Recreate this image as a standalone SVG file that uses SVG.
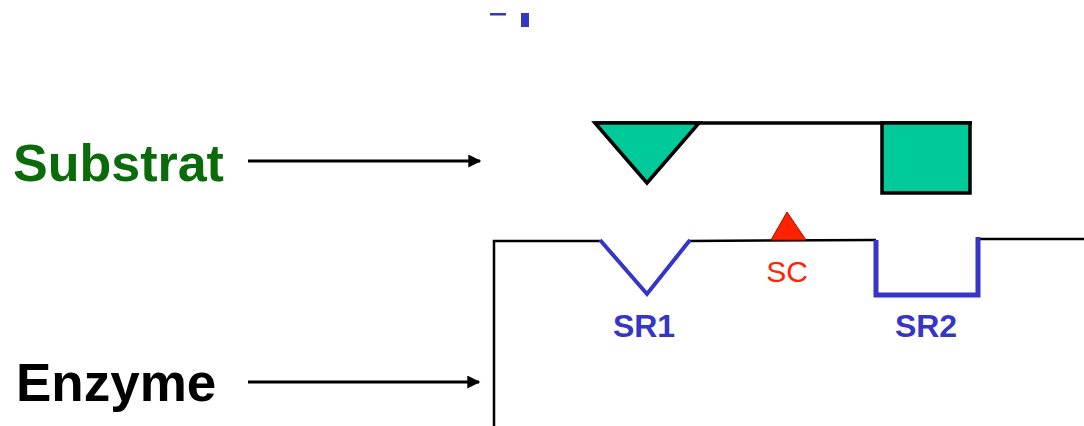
<svg xmlns="http://www.w3.org/2000/svg" width="1084" height="426" viewBox="0 0 1084 426">
<style>
.lbl{font-family:"Liberation Sans",Arial,sans-serif;font-weight:bold}
.site{font-family:"Liberation Sans",Arial,sans-serif;text-anchor:middle}
.blue{fill:#3535c8;font-size:32px;font-weight:bold}
.conn{stroke:#000;stroke-width:3;fill:none}
.sub{fill:#00c99a;stroke:#000;stroke-width:3.5;stroke-linejoin:miter}
</style>
<defs>
<marker id="ah" viewBox="0 0 10 10" refX="9" refY="5" markerWidth="15" markerHeight="13" markerUnits="userSpaceOnUse" orient="auto">
<path d="M0,0 L10,5 L0,10 z" fill="#000"/>
</marker>
</defs>
<rect width="1084" height="426" fill="#fff"/>
<g id="fragment">
<rect x="490" y="13" width="16" height="2.5" fill="#3535c8"/>
<rect x="521" y="13" width="8" height="14" fill="#3535c8"/>
</g>
<g id="label-substrat">
<text class="lbl" x="13" y="181" font-size="52" fill="#0b6b0b">Substrat</text>
</g>
<g id="label-enzyme">
<text class="lbl" x="16" y="401" font-size="53" fill="#000">Enzyme</text>
</g>
<g id="connectors">
<line class="conn" x1="248" y1="161" x2="480" y2="161" marker-end="url(#ah)"/>
<line class="conn" x1="248" y1="382" x2="479" y2="382" marker-end="url(#ah)"/>
</g>
<g id="substrate">
<line x1="594" y1="123" x2="972" y2="123" stroke="#000" stroke-width="3.5"/>
<polygon class="sub" points="595,123 699,123 647,183"/>
<rect class="sub" x="882" y="123" width="88" height="70"/>
</g>
<g id="enzyme">
<polyline points="494,426 494,241 600,241" fill="none" stroke="#000" stroke-width="2.5"/>
<line x1="689" y1="241" x2="876" y2="240" stroke="#000" stroke-width="2.5"/>
<line x1="979" y1="239" x2="1084" y2="239" stroke="#000" stroke-width="2.5"/>
<polygon points="771,240 787,212 806,240" fill="#ff2200" stroke="#a01000" stroke-width="1"/>
<polyline points="600,240 647,294 690,240" fill="none" stroke="#3535c8" stroke-width="4"/>
<polyline points="876,240 876,295 978,295 978,237" fill="none" stroke="#3535c8" stroke-width="5"/>
</g>
<g id="site-labels">
<text class="site" x="787" y="282" font-size="30" fill="#ff2200">SC</text>
<text class="site blue" x="644" y="337">SR1</text>
<text class="site blue" x="926" y="337">SR2</text>
</g>
</svg>
